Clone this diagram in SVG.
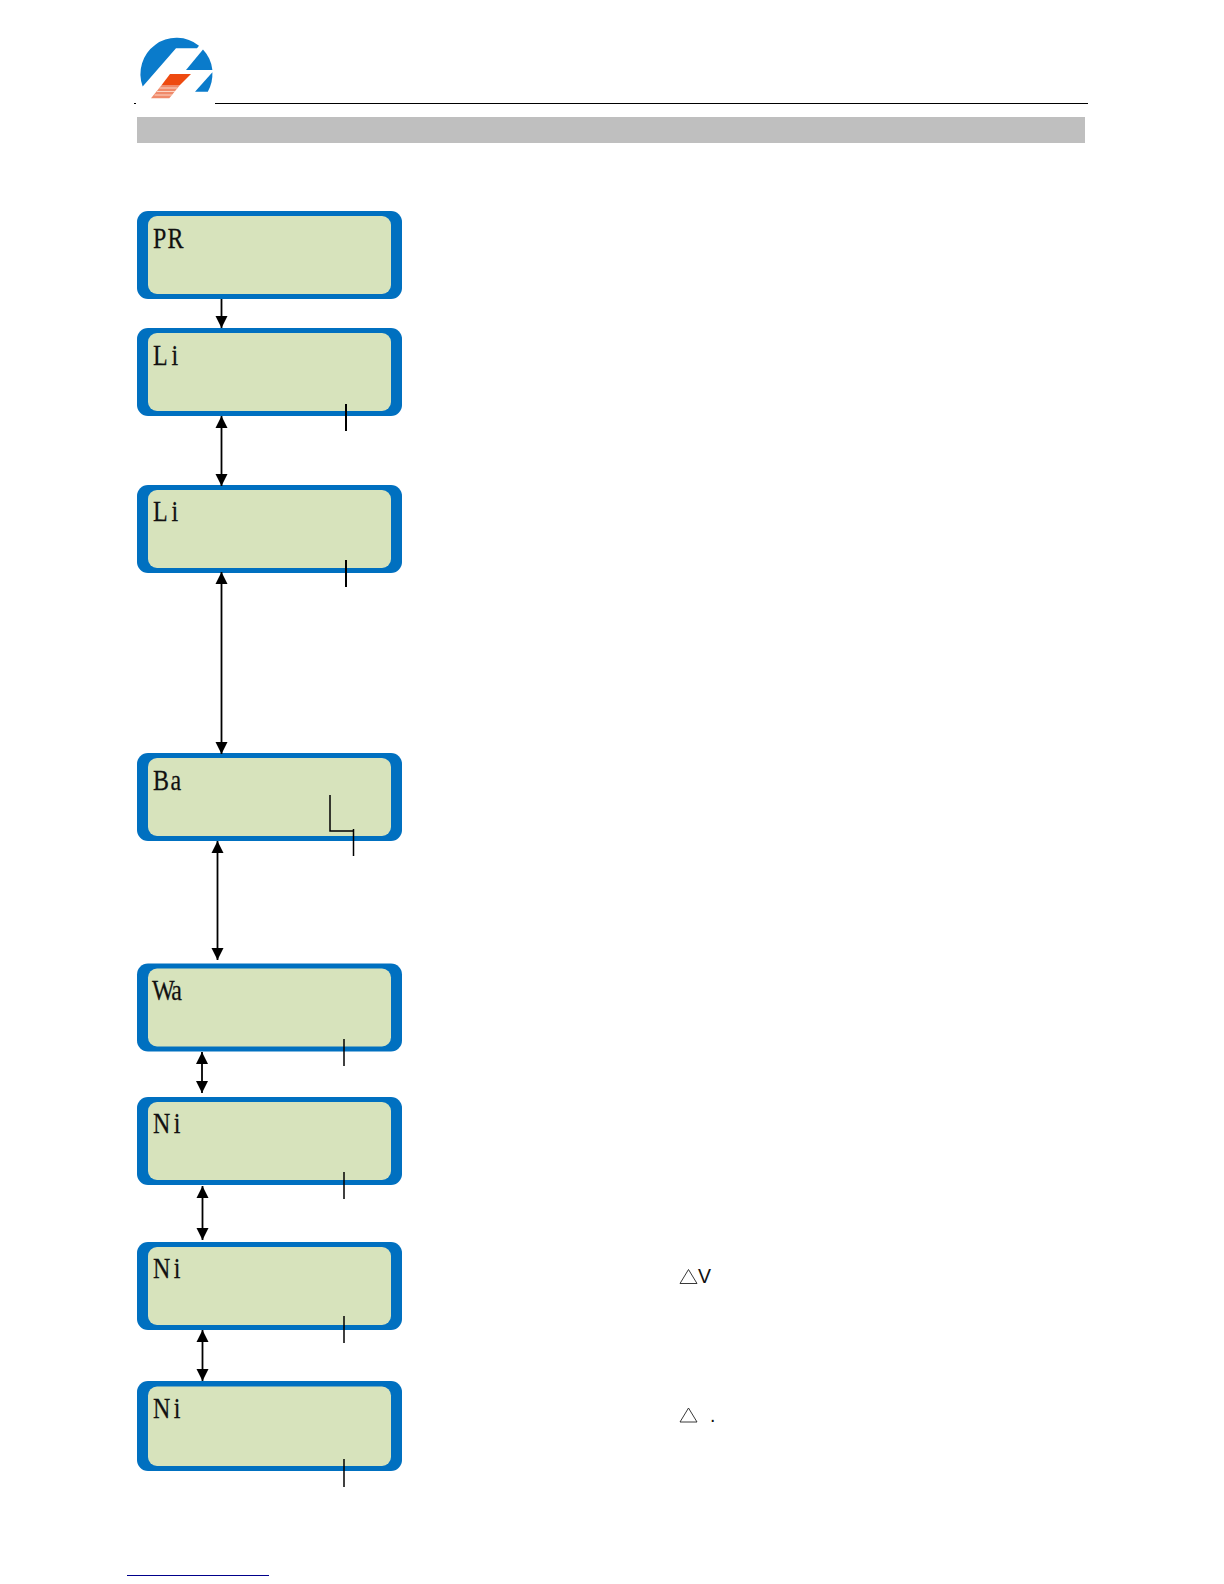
<svg xmlns="http://www.w3.org/2000/svg" width="1224" height="1584" viewBox="0 0 1224 1584">
<style>
.outer{fill:#0070c0}
.inner{fill:#d7e3bc}
.t{font-family:"Liberation Serif",serif;font-size:30px;fill:#111;stroke:#111;stroke-width:.25}
.s{stroke:#000;stroke-width:1.5;fill:none}
.b{stroke:#000;stroke-width:2;fill:none}
.c{stroke:#000;stroke-width:1.8;fill:none}
.l{font-family:"Liberation Sans",sans-serif;font-size:19.500px;fill:#111}
.tr{fill:none;stroke:#222;stroke-width:.9}
</style>
<defs>
<marker id="a" markerUnits="userSpaceOnUse" markerWidth="13" markerHeight="13" refX="12" refY="6.500" orient="auto-start-reverse"><path d="M0 0.500L12 6.500L0 12.500Z" fill="#000"/></marker>
<g id="box"><rect class="outer" x="137" y="0" width="265" height="88" rx="11"/><rect class="inner" x="148" y="5" width="243" height="78" rx="9"/></g>
</defs>
<g id="logo">
<path d="M142.700 86.400A36 36 0 0 1 199 45.800L197 48.300H176Z" fill="#0a7bcb"/>
<path d="M203 49.600A36 36 0 0 1 212.400 70H186Z" fill="#0a7bcb"/>
<path d="M212.400 72.300A36 36 0 0 1 207.800 91.700H195Z" fill="#0a7bcb"/>
<path d="M170 74H191L180 85H161.700Z" fill="#ee4a10"/>
<path d="M161.700 85H180L169.300 98.300H151Z" fill="#f08a6a"/>
<path d="M159.500 88H177.500M157 91.500H175M154.500 95H172" stroke="#fbd5c5" stroke-width="1"/>
</g>
<rect id="rule" x="215" y="103" width="873" height="1" fill="#000"/>
<rect x="134" y="103" width="2" height="1" fill="#000"/>
<rect id="bar" x="137" y="117" width="948" height="26" fill="#bfbfbf"/>
<g id="n1"><use href="#box" y="211"/><text class="t" transform="translate(153 248) scale(.8 1)" x="0 18">PR</text></g>
<g id="n2"><use href="#box" y="328"/><text class="t" transform="translate(153 365) scale(.8 1)" x="0 23">Li</text></g>
<g id="n3"><use href="#box" y="485"/><text class="t" transform="translate(153 521) scale(.8 1)" x="0 23">Li</text></g>
<g id="n4"><use href="#box" y="753"/><text class="t" transform="translate(153 790) scale(.8 1)" x="0 22">Ba</text></g>
<g id="n5"><use href="#box" y="963.500"/><text class="t" transform="translate(152 1000) scale(.8 1)" x="0 24">Wa</text></g>
<g id="n6"><use href="#box" y="1097"/><text class="t" transform="translate(153 1133) scale(.8 1)" x="0 26">Ni</text></g>
<g id="n7"><use href="#box" y="1242"/><text class="t" transform="translate(153 1278) scale(.8 1)" x="0 26">Ni</text></g>
<g id="n8"><rect class="outer" x="137" y="1381" width="265" height="90" rx="11"/><rect class="inner" x="148" y="1386.500" width="243" height="79.500" rx="9"/><text class="t" transform="translate(153 1418) scale(.8 1)" x="0 26">Ni</text></g>
<g id="connectors">
<path class="c" d="M221.500 299V328" marker-end="url(#a)"/>
<path class="c" d="M221.500 416V486" marker-start="url(#a)" marker-end="url(#a)"/>
<path class="c" d="M221.500 572V754" marker-start="url(#a)" marker-end="url(#a)"/>
<path class="c" d="M217.500 841V960" marker-start="url(#a)" marker-end="url(#a)"/>
<path class="c" d="M202 1052V1093" marker-start="url(#a)" marker-end="url(#a)"/>
<path class="c" d="M202.500 1186V1240" marker-start="url(#a)" marker-end="url(#a)"/>
<path class="c" d="M202.500 1330V1381" marker-start="url(#a)" marker-end="url(#a)"/>
<path class="b" d="M346 404V431"/>
<path class="b" d="M346 560V587"/>
<path class="s" d="M330 795V831H353.500M353.500 829V856"/>
<path class="s" d="M344 1039V1066"/>
<path class="s" d="M344 1172V1199"/>
<path class="s" d="M344 1316V1343"/>
<path class="s" d="M344 1459V1487"/>
</g>
<path class="tr" d="M680 1283.500L688.500 1269.500L697 1283.500Z"/>
<text class="l" x="698" y="1283">V</text>
<path class="tr" d="M680 1422L688.500 1408L697 1422Z"/>
<text class="l" x="710" y="1422">.</text>
<rect id="footer" x="127" y="1575" width="142" height="1" fill="#00008b"/>
</svg>
